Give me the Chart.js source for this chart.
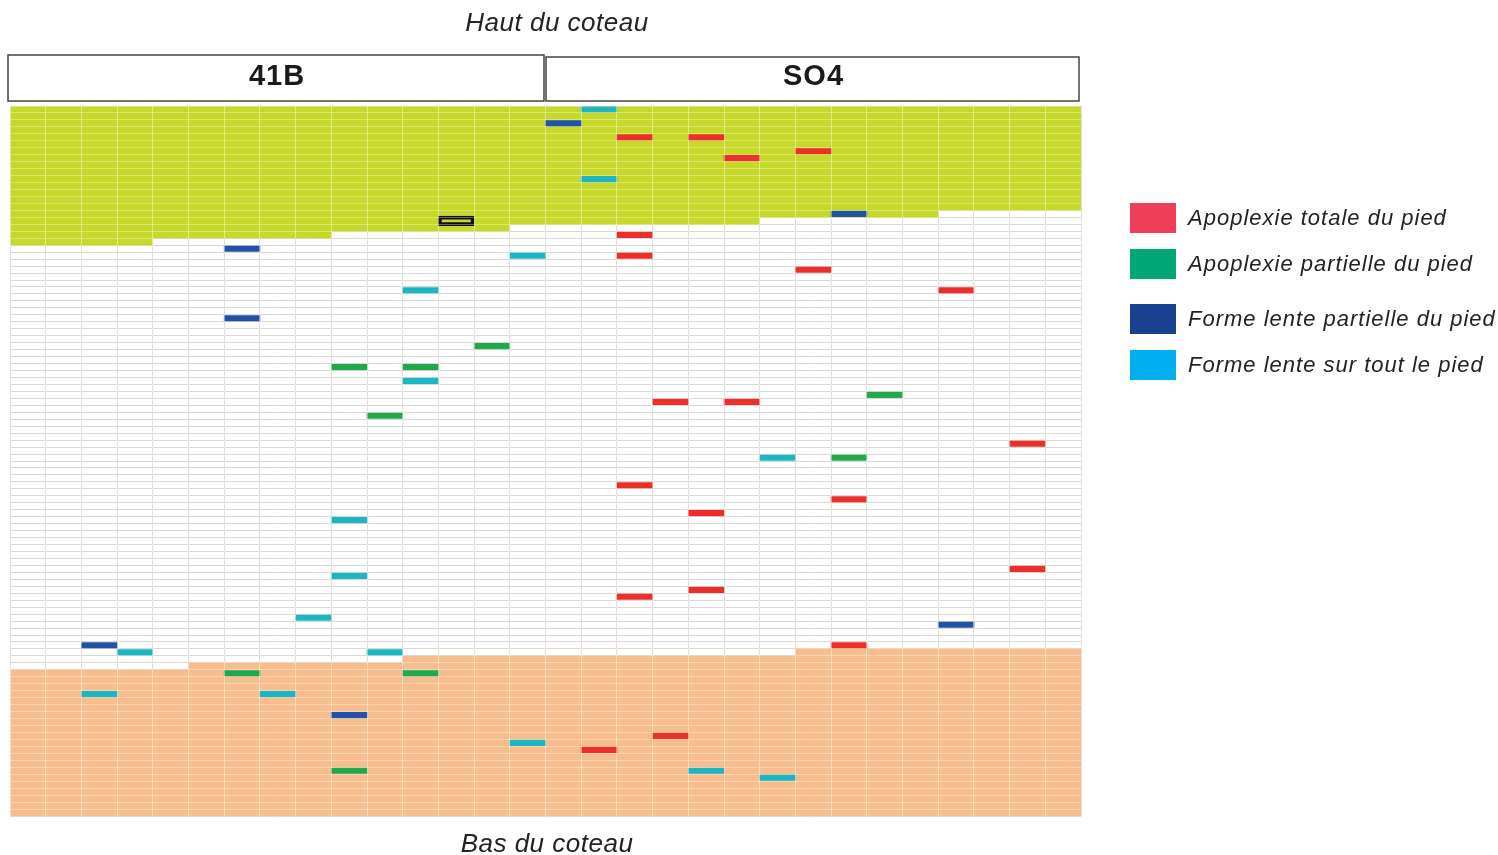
<!doctype html>
<html>
<head>
<meta charset="UTF-8">
<title>Haut du coteau / Bas du coteau</title>
<script src="https://cdn.jsdelivr.net/npm/chart.js"></script>
<style>
  html, body { margin: 0; padding: 0; background: #fff; }
  body { width: 1498px; height: 855px; position: relative; overflow: hidden; font-family: "Liberation Sans", Arial, sans-serif; }
  #chart { position: absolute; left: 0; top: 0; }
  .legend { position: absolute; left: 1130px; top: 0; }
  .legend .item { position: absolute; left: 0; width: 380px; height: 30px; }
  .legend .sw { position: absolute; left: 0; top: 0; width: 46px; height: 30px; }
  .legend .lbl { position: absolute; left: 58px; top: 1px; font-style: italic; font-size: 22px; letter-spacing: 1px; color: #222; white-space: nowrap; line-height: 28px; }
</style>
</head>
<body>
<canvas id="chart" width="1498" height="855"></canvas>
<div class="legend" id="legend"></div>
<script>
  // 30 rangs : 15 en 41B, 15 en SO4
  const columns = [
    "41B-1", "41B-2", "41B-3", "41B-4", "41B-5", "41B-6", "41B-7", "41B-8",
    "41B-9", "41B-10", "41B-11", "41B-12", "41B-13", "41B-14", "41B-15",
    "SO4-1", "SO4-2", "SO4-3", "SO4-4", "SO4-5", "SO4-6", "SO4-7", "SO4-8",
    "SO4-9", "SO4-10", "SO4-11", "SO4-12", "SO4-13", "SO4-14", "SO4-15"
  ];
  const rowCount = 102;
  const rootstocks = ["41B", "SO4"];

  // zone haute (vert) : nombre de pieds depuis le haut
  const hautRows = [20, 20, 20, 20, 19, 19, 19, 19, 19, 18, 18, 18, 18, 18, 17,
                    17, 17, 17, 17, 17, 17, 16, 16, 16, 16, 16, 15, 15, 15, 15];
  // zone basse (orange) : premier pied de la zone
  const basStart = [81, 81, 81, 81, 81, 80, 80, 80, 80, 80, 80, 79, 79, 79, 79,
                    79, 79, 79, 79, 79, 79, 79, 78, 78, 78, 78, 78, 78, 78, 78];

  // [rang, pied]
  const apoplexieTotale = [
    [17, 4], [19, 4], [20, 7], [22, 6], [17, 18], [17, 21], [22, 23], [26, 26],
    [18, 42], [20, 42], [28, 48], [17, 54], [23, 56], [19, 58], [28, 66],
    [19, 69], [17, 70], [23, 77], [18, 90], [16, 92]
  ];
  const apoplexiePartielle = [
    [13, 34], [9, 37], [11, 37], [24, 41], [10, 44], [23, 50], [6, 81],
    [11, 81], [9, 95]
  ];
  const lentePartielle = [
    [15, 2], [23, 15], [6, 20], [6, 30], [26, 74], [2, 77], [9, 87]
  ];
  const lenteTout = [
    [16, 0], [16, 10], [14, 21], [11, 26], [11, 39], [21, 50], [9, 59], [9, 67],
    [8, 73], [3, 78], [10, 78], [2, 84], [7, 84], [14, 91], [19, 95], [21, 96]
  ];
  const repere = [[12, 16]];

  const seriesNames = [
    "Apoplexie totale du pied",
    "Apoplexie partielle du pied",
    "Forme lente partielle du pied",
    "Forme lente sur tout le pied"
  ];
  const markColors = ["#ec2f2a", "#1fa84c", "#2152a8", "#1bb6c2"];
  const legendColors = ["#ef3e58", "#00a676", "#19418f", "#00aeef"];

  const toBars = (pairs, pad) =>
    pairs.map(([c, r]) => ({ x: columns[c], y: [r + pad, r + 1 - pad] }));

  const markSets = [apoplexieTotale, apoplexiePartielle, lentePartielle, lenteTout];

  const datasets = [
    {
      label: "Haut du coteau",
      data: hautRows.map((n, i) => ({ x: columns[i], y: [0, n] })),
      backgroundColor: "#c6d92b",
      order: 3,
    },
    {
      label: "Bas du coteau",
      data: basStart.map((n, i) => ({ x: columns[i], y: [n, rowCount] })),
      backgroundColor: "#f7bd8f",
      order: 3,
    },
    ...markSets.map((set, i) => ({
      label: seriesNames[i],
      data: toBars(set, 0.1),
      backgroundColor: markColors[i],
      order: 1,
    })),
    {
      label: "repere",
      data: toBars(repere, -0.18),
      backgroundColor: "rgba(0,0,0,0)",
      borderColor: "#111",
      borderWidth: 3,
      borderSkipped: false,
      order: 0,
    },
  ];

  const decor = {
    id: "decor",
    afterDraw(chart) {
      const { ctx } = chart;
      ctx.save();
      ctx.fillStyle = "#222";
      ctx.textAlign = "center";
      ctx.textBaseline = "alphabetic";
      ctx.letterSpacing = "0.5px";
      ctx.font = "italic 26px 'Liberation Sans', Arial, sans-serif";
      ctx.fillText("Haut du coteau", 557, 31);
      ctx.fillText("Bas du coteau", 547, 852);

      // bandeaux des porte-greffes
      const boxes = [[8, 55, 536, 46], [546, 57, 533, 44]];
      ctx.strokeStyle = "#444";
      ctx.lineWidth = 1.5;
      ctx.letterSpacing = "1px";
      ctx.font = "bold 29px 'Liberation Sans', Arial, sans-serif";
      boxes.forEach(([x, y, w, h], i) => {
        ctx.strokeRect(x, y, w, h);
        ctx.fillStyle = "#1a1a1a";
        ctx.fillText(rootstocks[i], x + w / 2 + 1, 85);
      });
      ctx.restore();
    },
  };

  const hidden = { display: false };

  new Chart("chart", {
    type: "bar",
    data: { labels: columns, datasets: datasets },
    options: {
      responsive: false,
      animation: false,
      events: [],
      layout: { padding: { left: 10, top: 106, right: 417, bottom: 39 } },
      datasets: { bar: { grouped: false, barPercentage: 1, categoryPercentage: 1 } },
      plugins: { legend: hidden, tooltip: { enabled: false } },
      scales: {
        x: {
          type: "category",
          offset: true,
          ticks: hidden,
          border: hidden,
          grid: { offset: true, drawTicks: false, color: "#c6c1ca", lineWidth: 1, z: -1 },
        },
        x2: {
          type: "category",
          labels: columns,
          position: "bottom",
          offset: true,
          ticks: hidden,
          border: hidden,
          grid: { offset: true, drawTicks: false, color: "rgba(255,255,240,0.45)", lineWidth: 1, z: 1 },
        },
        y: {
          type: "linear",
          reverse: true,
          min: 0,
          max: rowCount,
          ticks: { display: false, stepSize: 1, maxTicksLimit: 200 },
          border: hidden,
          grid: { drawTicks: false, color: "#c6c3ca", lineWidth: 1, z: -1 },
        },
        y2: {
          type: "linear",
          position: "left",
          reverse: true,
          min: 0,
          max: rowCount,
          ticks: { display: false, stepSize: 1, maxTicksLimit: 200 },
          border: hidden,
          grid: { drawTicks: false, color: "rgba(255,255,240,0.35)", lineWidth: 1, z: 1 },
        },
      },
    },
    plugins: [decor],
  });

  // legende
  const legendTops = [203, 249, 304, 350];
  const legend = document.getElementById("legend");
  seriesNames.forEach((name, i) => {
    const item = document.createElement("div");
    item.className = "item";
    item.style.top = legendTops[i] + "px";
    item.innerHTML = `<div class="sw" style="background:${legendColors[i]}"></div><div class="lbl">${name}</div>`;
    legend.appendChild(item);
  });
</script>
</body>
</html>
